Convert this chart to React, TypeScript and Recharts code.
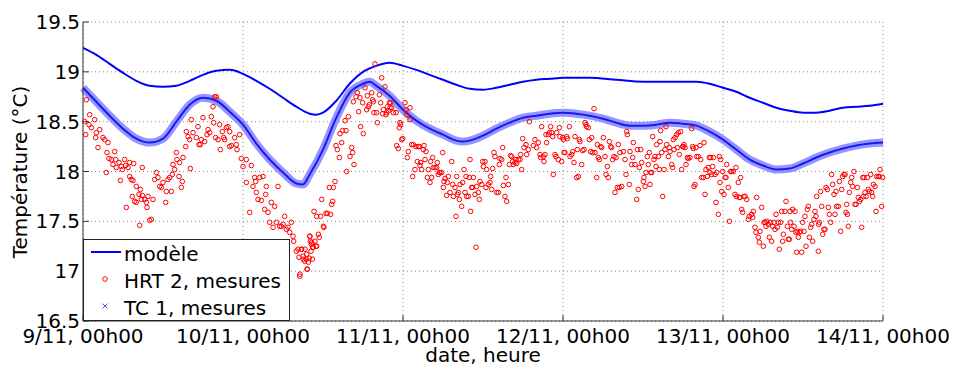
import { ComposedChart, Line, Scatter, XAxis, YAxis, CartesianGrid } from 'recharts';

// x = heures depuis le 9/11 00h00
const dayTicks = [0, 24, 48, 72, 96, 120];
const dayLabels = ['9/11, 00h00', '10/11, 00h00', '11/11, 00h00', '12/11, 00h00', '13/11, 00h00', '14/11, 00h00'];
const tempTicks = [16.5, 17, 17.5, 18, 18.5, 19, 19.5];
const tempLabels = ['16.5', '17', '17.5', '18', '18.5', '19', '19.5'];

// modèle [heure, °C]
const modele = [
  [0, 19.24], [2, 19.17], [4, 19.08], [6, 18.99], [8, 18.91], [10, 18.86], [12, 18.85], [14, 18.86],
  [16, 18.91], [18, 18.97], [20, 19.01], [22, 19.02], [24, 18.98], [26, 18.91], [28, 18.83], [30, 18.74],
  [32, 18.65], [34, 18.58], [35, 18.57], [36, 18.59], [38, 18.71], [40, 18.88], [42, 19.0], [44, 19.06],
  [46, 19.09], [48, 19.06], [50, 19.02], [52, 18.97], [54, 18.92], [56, 18.87], [58, 18.83], [60, 18.82],
  [62, 18.84], [64, 18.87], [66, 18.9], [68, 18.92], [70, 18.93], [72, 18.94], [76, 18.94], [80, 18.92],
  [84, 18.9], [88, 18.9], [92, 18.9], [94, 18.88], [96, 18.84], [98, 18.8], [100, 18.74], [102, 18.69],
  [104, 18.64], [106, 18.61], [108, 18.59], [110, 18.59], [112, 18.61], [114, 18.64], [116, 18.65],
  [118, 18.66], [120, 18.68],
];

// TC 1, mesures [heure, °C]
const tc1 = [
  [0, 18.84], [2, 18.7], [4, 18.56], [6, 18.43], [8, 18.33], [10, 18.29], [12, 18.33], [14, 18.5],
  [16, 18.67], [18, 18.74], [20, 18.71], [22, 18.6], [24, 18.47], [26, 18.28], [28, 18.12], [30, 17.99],
  [32, 17.88], [33, 17.87], [34, 17.97], [36, 18.22], [38, 18.54], [40, 18.79], [42, 18.88], [43, 18.9],
  [44, 18.86], [46, 18.76], [48, 18.62], [50, 18.51], [52, 18.43], [54, 18.37], [56, 18.31], [57, 18.3],
  [58, 18.31], [60, 18.36], [62, 18.43], [64, 18.49], [66, 18.54], [68, 18.56], [70, 18.58], [72, 18.59],
  [74, 18.58], [76, 18.56], [78, 18.53], [80, 18.49], [82, 18.46], [84, 18.46], [86, 18.47], [88, 18.49],
  [90, 18.48], [92, 18.46], [94, 18.4], [96, 18.32], [98, 18.22], [100, 18.12], [102, 18.06], [104, 18.02],
  [106, 18.03], [108, 18.08], [110, 18.14], [112, 18.19], [114, 18.23], [116, 18.26], [118, 18.28], [120, 18.29],
];

// HRT 2, mesures [heure, °C]
const hrt2 = [
  [0.5, 18.72], [1.0, 18.57], [0.25, 18.5], [0.4, 18.37], [0.9, 18.47], [1.25, 18.44], [1.75, 18.52], [2.0, 18.39],
  [1.9, 18.34], [2.5, 18.42], [2.25, 18.24], [3.0, 18.34], [3.25, 18.32], [3.75, 18.29], [3.6, 18.19], [3.9, 18.13],
  [4.25, 18.12], [4.75, 18.2], [4.9, 18.12], [4.5, 18.07], [5.0, 18.04], [5.4, 18.09], [5.75, 18.05], [5.9, 18.02],
  [6.25, 18.12], [6.4, 18.06], [6.75, 18.04], [7.0, 18.09], [7.6, 18.08], [3.5, 17.99], [5.6, 17.91], [7.0, 17.95],
  [7.25, 17.92], [7.5, 17.91], [8.0, 17.85], [7.4, 17.75], [8.4, 17.77], [8.6, 17.82], [7.75, 17.7], [8.0, 17.69],
  [8.9, 17.76], [8.75, 17.72], [9.25, 17.72], [9.5, 17.69], [9.6, 17.64], [6.5, 17.64], [8.5, 17.46], [10.0, 17.51],
  [10.25, 17.52], [8.9, 18.04], [9.75, 17.75], [10.5, 17.72], [11.0, 17.99], [10.75, 17.92], [11.25, 17.94], [11.5, 17.85],
  [11.75, 17.84], [12.0, 17.89], [12.4, 17.69], [12.5, 17.8], [12.75, 17.92], [13.0, 17.94], [13.25, 17.8], [13.5, 18.07],
  [13.75, 18.02], [13.4, 17.97], [14.0, 18.19], [14.1, 18.12], [14.5, 18.09], [14.75, 17.84], [14.9, 17.9], [15.0, 18.14],
  [14.4, 17.95], [15.4, 18.25], [15.5, 18.4], [15.75, 18.35], [16.0, 18.32], [16.1, 18.03], [16.5, 18.39], [16.25, 18.52],
  [17.25, 18.45], [17.4, 18.27], [17.0, 18.34], [17.75, 18.32], [17.6, 18.27], [18.0, 18.54], [18.25, 18.3], [18.75, 18.42],
  [18.6, 18.37], [19.0, 18.39], [19.25, 18.55], [19.5, 18.65], [19.75, 18.75], [20.0, 18.75], [19.6, 18.49], [19.9, 18.34],
  [20.25, 18.32], [20.5, 18.47], [20.6, 18.22], [20.9, 18.4], [21.1, 18.34], [21.25, 18.32], [21.5, 18.44], [21.75, 18.45],
  [22.0, 18.4], [22.0, 18.25], [22.25, 18.26], [22.75, 18.34], [23.0, 18.27], [23.1, 18.22], [23.5, 18.37], [23.75, 18.13],
  [24.0, 18.05], [24.5, 18.12], [24.5, 17.89], [25.0, 17.59], [25.25, 18.06], [25.5, 17.85], [25.75, 17.94], [25.9, 17.9],
  [26.0, 17.79], [26.25, 17.72], [26.5, 17.94], [26.75, 17.71], [27.0, 17.95], [27.25, 17.62], [27.4, 17.77], [27.5, 17.85],
  [27.75, 17.59], [28.0, 17.49], [28.25, 17.69], [28.5, 17.44], [28.75, 17.65], [29.0, 17.49], [29.25, 17.85], [29.5, 17.45],
  [29.75, 17.45], [30.0, 17.47], [30.25, 17.55], [30.5, 17.42], [30.75, 17.44], [31.0, 17.39], [31.25, 17.49], [31.5, 17.35],
  [31.6, 17.3], [32.0, 17.2], [32.25, 17.22], [32.4, 17.14], [32.5, 16.95], [32.75, 17.22], [33.0, 17.15], [33.25, 17.1],
  [33.5, 17.12], [33.6, 17.02], [34.0, 17.35], [34.1, 17.3], [34.25, 17.27], [34.2, 17.2], [34.4, 17.12],
  [32.55, 16.97], [32.8, 17.22], [33.05, 17.12], [33.3, 17.22], [33.65, 17.02], [33.8, 17.09], [33.55, 17.17], [33.95, 17.13],
  [34.05, 17.35], [34.3, 17.29], [34.45, 17.24], [34.55, 17.24], [34.8, 17.3], [34.95, 17.25], [35.05, 17.25], [35.3, 17.37],
  [35.45, 17.34], [34.65, 17.6], [35.05, 17.55], [35.65, 17.55], [35.8, 17.72], [36.05, 17.45], [36.15, 17.44], [36.45, 17.58],
  [36.65, 17.58], [36.95, 17.84], [37.15, 17.57], [37.3, 17.67], [37.45, 17.7], [37.55, 17.84], [37.8, 17.9], [37.95, 18.26],
  [38.15, 18.22], [38.45, 18.14], [38.55, 18.38], [38.8, 18.29], [38.95, 18.41], [39.3, 18.51], [39.45, 18.41], [39.55, 18.0],
  [39.8, 18.55], [40.05, 18.15], [40.3, 18.24], [40.45, 18.19], [40.55, 18.7], [40.65, 18.07], [40.95, 18.75], [41.15, 18.79],
  [41.35, 18.6], [41.55, 18.74], [41.65, 18.45], [41.95, 18.69], [42.05, 18.38], [42.3, 18.84], [42.55, 18.62], [42.65, 18.76],
  [42.8, 18.65], [42.95, 18.67], [43.3, 18.79], [43.45, 18.72], [43.55, 18.7], [43.65, 18.59], [43.8, 19.08], [44.05, 18.59],
  [44.15, 18.49], [44.45, 18.77], [44.65, 18.69], [44.8, 18.94], [44.95, 18.58], [45.05, 18.62], [45.3, 18.85], [45.45, 18.57],
  [45.55, 18.59], [45.65, 18.65], [45.8, 18.61], [45.95, 18.69], [46.05, 18.64], [46.15, 18.69], [46.3, 18.64], [46.55, 18.59],
  [46.95, 18.59], [47.05, 18.26], [47.3, 18.23], [47.45, 18.44], [47.55, 18.49], [47.65, 18.47], [47.8, 18.32], [47.95, 18.33],
  [48.3, 18.69], [48.45, 18.62], [48.55, 18.57], [48.65, 18.14], [48.8, 18.2], [49.05, 18.64], [49.05, 18.52], [49.3, 18.27],
  [49.45, 17.95], [49.55, 18.27], [49.8, 18.02], [49.95, 18.25], [50.15, 18.1], [50.3, 18.25], [50.45, 18.25], [50.55, 18.06],
  [50.65, 18.09], [50.8, 18.02], [51.05, 18.22], [51.15, 18.26], [51.3, 18.12], [51.45, 18.2], [51.65, 17.94], [51.8, 18.02],
  [52.05, 17.89], [52.15, 18.1], [52.3, 17.94], [52.45, 18.14], [52.55, 18.04], [52.8, 18.04], [53.05, 18.04], [53.15, 18.09],
  [53.3, 17.97], [53.45, 17.99], [53.55, 17.99], [53.8, 17.99], [53.95, 18.19], [54.05, 17.84], [54.15, 17.9], [54.3, 17.93],
  [54.55, 17.76], [54.65, 17.89], [54.8, 17.95], [55.05, 17.79], [55.3, 18.1], [55.45, 17.87], [55.55, 17.75], [55.8, 17.84],
  [55.95, 17.55], [56.05, 17.95], [56.15, 17.77], [56.3, 17.79], [56.45, 17.72], [56.55, 17.87], [56.8, 17.65], [56.95, 17.89],
  [57.15, 18.02], [57.3, 17.79], [57.45, 17.95], [57.55, 17.75], [57.8, 17.75], [57.95, 17.94], [58.05, 18.12], [58.15, 17.6],
  [58.3, 17.84], [58.45, 17.84], [58.55, 17.94], [58.8, 17.77], [58.95, 17.24], [59.05, 17.85], [59.3, 17.79], [59.45, 17.72],
  [59.55, 17.9], [59.8, 17.87], [59.95, 18.1], [60.05, 18.05], [60.3, 18.1], [60.45, 17.84], [60.55, 18.02], [60.8, 17.87],
  [61.05, 17.89], [61.15, 17.95], [61.3, 17.82], [61.45, 18.03], [61.65, 18.19], [61.8, 18.15], [62.05, 17.79], [62.3, 17.79],
  [62.45, 18.07], [62.55, 18.13], [62.8, 18.12], [62.95, 18.24], [63.05, 17.86], [63.3, 17.75], [63.45, 17.94], [63.55, 17.7],
  [63.8, 17.87], [63.95, 18.07], [64.15, 18.16], [64.3, 18.15], [64.45, 18.1], [64.55, 18.07], [64.8, 18.09], [64.95, 18.12],
  [65.05, 18.08], [65.3, 18.12], [65.55, 18.12], [65.65, 18.17], [65.8, 18.02], [65.95, 18.33], [66.15, 18.24], [66.45, 18.27],
  [66.55, 18.17], [66.8, 18.22], [66.95, 18.5],
  [67.8, 18.32], [67.55, 18.26], [68.05, 18.24], [68.3, 18.29], [68.55, 18.17], [68.8, 18.45], [68.65, 18.14], [69.05, 18.15],
  [69.15, 18.1], [69.3, 18.17], [69.45, 18.37], [69.55, 18.29], [69.8, 18.37], [69.95, 18.39], [70.15, 18.45], [70.3, 18.39],
  [70.45, 18.35], [70.55, 17.97], [70.8, 18.17], [70.95, 18.15], [71.05, 18.39], [71.3, 18.12], [71.45, 18.44], [71.55, 18.35],
  [71.8, 18.1], [71.95, 18.34], [72.05, 18.32], [72.15, 18.19], [72.3, 18.19], [72.55, 18.35], [72.65, 18.33], [72.95, 18.45],
  [73.05, 18.15], [73.3, 18.17], [73.45, 18.2], [73.65, 18.09], [73.8, 18.35], [74.05, 17.94], [74.15, 18.22], [74.3, 17.95],
  [74.45, 18.32], [74.55, 18.3], [74.8, 18.07], [74.95, 18.21], [75.15, 18.22], [75.3, 18.49], [75.45, 18.47], [75.55, 18.45],
  [75.8, 18.44], [75.95, 18.32], [76.15, 18.2], [76.3, 18.34], [76.45, 18.19], [76.65, 18.63], [76.8, 18.19], [77.05, 17.94],
  [77.15, 18.27], [77.3, 18.14], [77.45, 18.12], [77.65, 18.25], [77.8, 18.24], [78.05, 18.34], [78.3, 18.15], [78.45, 17.97],
  [78.65, 18.05], [78.8, 17.94], [78.95, 18.3], [79.15, 18.25], [79.3, 18.24], [79.45, 18.12], [79.65, 18.15], [79.8, 17.79],
  [79.95, 18.14], [80.15, 17.84], [80.3, 18.27], [80.45, 17.84], [80.55, 18.19], [80.8, 17.85], [81.05, 18.2], [81.3, 18.12],
  [81.45, 17.97], [81.55, 18.4], [81.65, 18.37], [81.95, 17.87], [82.05, 18.2], [82.3, 18.07], [82.45, 18.14], [82.55, 18.29],
  [82.8, 18.07], [83.05, 17.72], [83.15, 18.22], [83.3, 17.82], [83.45, 18.04], [83.65, 18.22], [83.8, 18.09], [84.05, 17.9],
  [84.15, 17.94], [84.3, 17.85], [84.45, 17.99], [84.65, 18.15], [84.8, 18.07], [84.95, 18.19], [85.05, 17.87], [85.15, 17.99],
  [85.3, 17.99], [85.45, 18.35], [85.65, 18.12], [85.8, 18.15], [85.95, 18.05], [86.05, 18.27], [86.3, 18.15], [86.45, 18.02],
  [86.55, 18.3], [86.65, 18.41], [86.8, 18.19], [86.95, 17.75], [87.15, 18.02], [87.3, 18.22], [87.45, 18.45], [87.55, 18.27],
  [87.8, 18.15], [87.95, 18.24], [88.05, 18.2], [88.3, 18.07], [88.45, 18.04], [88.55, 18.32], [88.65, 18.22], [88.8, 18.34],
  [89.05, 18.37], [89.15, 18.24], [89.3, 18.39], [89.45, 18.17], [89.65, 18.4], [89.8, 18.02], [89.95, 18.25], [90.05, 18.25],
  [90.15, 18.27], [90.3, 18.24], [90.45, 18.07], [90.65, 18.14], [90.8, 18.13], [91.05, 18.14], [91.3, 18.43], [91.45, 18.25],
  [91.55, 18.23], [91.65, 17.85], [91.8, 17.87], [91.95, 18.24], [92.05, 18.15], [92.3, 18.15], [92.55, 18.26], [92.65, 18.12],
  [92.8, 17.94], [93.05, 17.94], [93.15, 18.29], [93.3, 17.77], [93.45, 18.02], [93.65, 17.95], [93.8, 18.04], [93.95, 18.14],
  [94.05, 17.99], [94.15, 18.14], [94.3, 17.97], [94.45, 18.05], [94.55, 18.14], [94.8, 17.97], [94.95, 17.69], [95.05, 17.99],
  [95.3, 17.57], [95.45, 18.15], [95.55, 17.89], [95.65, 18.12], [95.8, 17.8], [95.95, 18.0], [96.15, 17.77], [96.3, 17.94],
  [96.45, 17.94], [96.55, 18.07], [96.8, 17.84], [96.95, 17.5], [97.15, 18.0], [97.3, 18.0], [97.55, 18.0], [97.8, 17.77],
  [97.95, 18.04], [98.05, 17.75], [98.3, 17.89], [98.45, 17.74], [98.55, 17.74], [98.65, 17.94], [98.8, 17.62], [98.95, 17.59],
  [99.15, 17.75], [99.3, 17.75], [99.55, 17.72], [99.8, 17.52], [99.95, 17.55],
  [100.3, 17.57], [100.55, 17.6], [100.45, 17.54], [100.8, 17.44], [100.95, 17.39], [101.05, 17.74], [101.3, 17.34], [101.45, 17.29],
  [101.55, 17.4], [101.8, 17.64], [102.05, 17.25], [102.15, 17.49], [102.3, 17.49], [102.45, 17.45], [102.55, 17.5], [102.8, 17.47],
  [102.95, 17.34], [103.15, 17.49], [103.3, 17.3], [103.45, 17.45], [103.65, 17.49], [103.8, 17.42], [103.95, 17.57], [104.15, 17.44],
  [104.3, 17.49], [104.45, 17.22], [104.65, 17.49], [104.8, 17.6], [104.95, 17.3], [105.05, 17.37], [105.3, 17.6], [105.45, 17.7],
  [105.65, 17.45], [105.8, 17.32], [105.95, 17.32], [106.05, 17.6], [106.15, 17.49], [106.3, 17.42], [106.45, 17.62], [106.65, 17.45],
  [106.8, 17.6], [106.95, 17.39], [107.05, 17.19], [107.15, 17.4], [107.3, 17.34], [107.45, 17.39], [107.65, 17.4], [107.8, 17.19],
  [107.95, 17.49], [108.15, 17.4], [108.3, 17.55], [108.45, 17.25], [108.65, 17.62], [108.8, 17.65], [108.95, 17.34], [109.15, 17.44],
  [109.3, 17.47], [109.45, 17.3], [109.65, 17.52], [109.8, 17.6], [109.95, 17.55], [110.05, 17.75], [110.3, 17.2], [110.35, 17.47],
  [110.45, 17.49], [110.65, 17.8], [110.8, 17.65], [110.95, 17.37], [111.15, 17.42], [111.3, 17.42], [111.45, 17.84], [111.65, 17.82],
  [111.8, 17.64], [111.95, 17.57], [112.15, 17.49], [112.3, 17.97], [112.45, 17.87], [112.65, 17.77], [112.8, 17.57], [112.95, 17.8],
  [113.05, 17.65], [113.3, 17.65], [113.45, 17.9], [113.65, 17.4], [113.8, 17.82], [113.95, 17.95], [114.15, 17.97], [114.3, 17.97],
  [114.45, 17.59], [114.55, 17.67], [114.65, 17.57], [114.8, 17.45], [114.95, 17.79], [115.15, 17.89], [115.3, 17.94], [115.45, 17.85],
  [115.65, 18.0], [115.8, 17.67], [115.95, 17.67], [116.15, 17.84], [116.3, 17.74], [116.45, 17.7], [116.65, 17.72], [116.8, 17.44],
  [116.95, 17.94], [117.05, 17.75], [117.15, 17.94], [117.3, 17.79], [117.45, 17.75], [117.65, 17.94], [117.8, 17.82], [117.95, 17.8],
  [118.15, 17.97], [118.3, 17.79], [118.45, 17.75], [118.55, 17.87], [118.8, 17.85], [118.95, 17.6], [119.05, 17.95], [119.3, 17.95],
  [119.45, 17.95], [119.55, 18.02], [119.8, 17.65], [119.95, 17.94],
];

const toRows = (pts: number[][]) => pts.map(([h, t]) => ({ h, t }));
const modeleData = toRows(modele);
const tcData = toRows(tc1);
const hrtData = toRows(hrt2);

const FONT = 'DejaVu Sans, Verdana, sans-serif';
const FRAME = '#333333';

const BottomTick = ({ x, y, payload }: any) => (
  <g>
    <line x1={x} y1={y} x2={x} y2={y - 6} stroke={FRAME} />
    <text x={x} y={y + 22} textAnchor="middle" fontSize={20} fontFamily={FONT} fill="#000">
      {dayLabels[dayTicks.indexOf(payload.value)]}
    </text>
  </g>
);

const TopTick = ({ x, y }: any) => <line x1={x} y1={y} x2={x} y2={y + 6} stroke={FRAME} />;

const LeftTick = ({ x, y, payload }: any) => (
  <g>
    <line x1={x} y1={y} x2={x + 6} y2={y} stroke={FRAME} />
    <text x={x - 3} y={y + 7} textAnchor="end" fontSize={20} fontFamily={FONT} fill="#000">
      {tempLabels[tempTicks.indexOf(payload.value)]}
    </text>
  </g>
);

const RightTick = ({ x, y }: any) => <line x1={x} y1={y} x2={x - 6} y2={y} stroke={FRAME} />;

const XLabel = () => (
  <text x={483} y={362} textAnchor="middle" fontSize={20} fontFamily={FONT} fill="#000">
    date, heure
  </text>
);

const YLabel = () => (
  <text x={27} y={172} transform="rotate(-90 27 172)" textAnchor="middle" fontSize={20} fontFamily={FONT} fill="#000">
    Température (°C)
  </text>
);

const RedCircle = ({ cx, cy }: any) => (
  <circle cx={cx} cy={cy} r={2.3} fill="none" stroke="#ff0000" strokeWidth={1} />
);

const Legende = () => (
  <svg
    width={207}
    height={82}
    style={{ position: 'absolute', left: 83, top: 239, background: '#fff', fontFamily: FONT }}
  >
    <rect x={0.5} y={0.5} width={206} height={81} fill="#fff" stroke="#222" />
    <line x1={8} y1={13} x2={38} y2={13} stroke="#0000ff" strokeWidth={2} />
    <text x={41} y={22} fontSize={20} fill="#000">modèle</text>
    <circle cx={22} cy={40} r={2.3} fill="none" stroke="#ff0000" />
    <text x={41} y={49} fontSize={20} fill="#000">HRT 2, mesures</text>
    <path d="M19.5 64.5 L24.5 69.5 M24.5 64.5 L19.5 69.5" stroke="#5050ff" />
    <text x={41} y={76} fontSize={20} fill="#000">TC 1, mesures</text>
  </svg>
);

export default function App() {
  return (
    <div style={{ position: 'absolute', left: 0, top: 0, width: 955, height: 367, background: '#fff' }}>
      <ComposedChart width={955} height={367} margin={{ top: 22, right: 72, bottom: 16, left: 23 }}>
        <CartesianGrid stroke="#8a8a8a" strokeDasharray="1 3" horizontal vertical />
        <XAxis
          dataKey="h"
          type="number"
          domain={[0, 120]}
          ticks={dayTicks}
          height={30}
          tickSize={0}
          tickMargin={0}
          tickLine={false}
          tick={<BottomTick />}
          axisLine={{ stroke: FRAME }}
          interval={0}
          label={<XLabel />}
        />
        <XAxis
          xAxisId="top"
          orientation="top"
          type="number"
          domain={[0, 120]}
          ticks={dayTicks}
          height={0}
          tickSize={0}
          tickMargin={0}
          tickLine={false}
          tick={<TopTick />}
          axisLine={{ stroke: FRAME }}
          interval={0}
        />
        <YAxis
          type="number"
          domain={[16.5, 19.5]}
          ticks={tempTicks}
          width={60}
          tickSize={0}
          tickMargin={0}
          tickLine={false}
          tick={<LeftTick />}
          axisLine={{ stroke: FRAME }}
          interval={0}
          label={<YLabel />}
        />
        <YAxis
          yAxisId="right"
          orientation="right"
          type="number"
          domain={[16.5, 19.5]}
          ticks={tempTicks}
          width={0}
          tickSize={0}
          tickMargin={0}
          tickLine={false}
          tick={<RightTick />}
          axisLine={{ stroke: FRAME }}
          interval={0}
        />
        <Line
          data={modeleData}
          dataKey="t"
          type="monotone"
          stroke="#0000ff"
          strokeWidth={2}
          dot={false}
          isAnimationActive={false}
        />
        <Scatter data={hrtData} dataKey="t" shape={<RedCircle />} isAnimationActive={false} />
        <Line
          data={tcData}
          dataKey="t"
          type="monotone"
          stroke="#7b7bff"
          strokeOpacity={0.8}
          strokeWidth={8}
          dot={false}
          isAnimationActive={false}
        />
        <Line
          data={tcData}
          dataKey="t"
          type="monotone"
          stroke="#1a1aee"
          strokeWidth={2}
          dot={false}
          isAnimationActive={false}
        />
      </ComposedChart>
      <Legende />
    </div>
  );
}
